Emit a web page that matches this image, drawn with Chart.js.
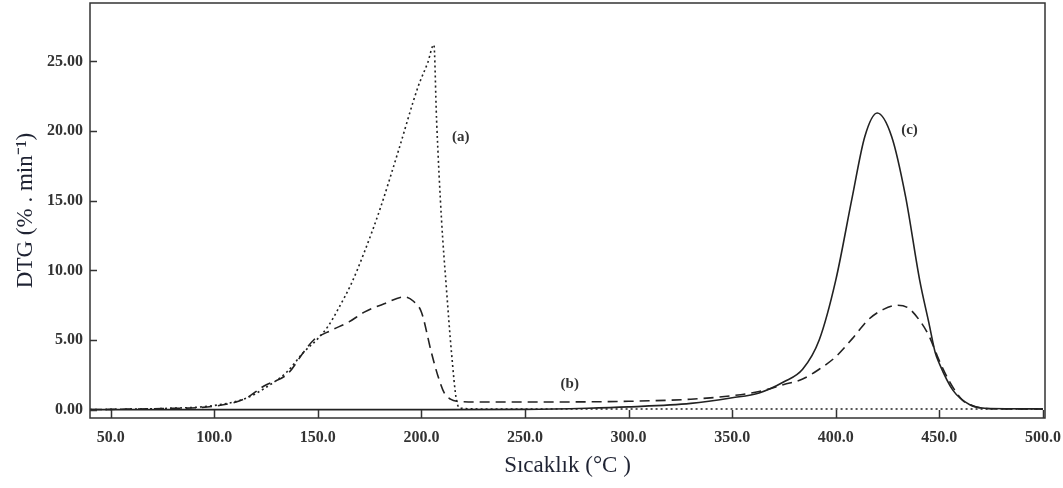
<!DOCTYPE html>
<html>
<head>
<meta charset="utf-8">
<script src="https://cdn.jsdelivr.net/npm/chart.js@4"></script>
<style>
  html, body { margin: 0; padding: 0; background: #fff; }
  #wrap { width: 1063px; height: 488px; }
</style>
</head>
<body>
<div id="wrap"><canvas id="myChart"></canvas></div>
<script>
// data
const tempA = [40, 50, 75, 100, 115, 125, 135, 143, 150, 155, 159.7, 166, 172.4, 180, 188.7, 198.4, 203, 206, 207.3, 209.7, 212, 214.5, 217, 219, 230, 300, 400, 500];
const dtgA  = [0, 0.02, 0.08, 0.3, 0.8, 1.6, 2.7, 4.1, 5.1, 6.0, 7.2, 9.0, 11.3, 14.4, 18.5, 23.2, 24.9, 26.2, 20.8, 13.6, 8.8, 4.1, 0.6, 0.1, 0.05, 0.05, 0.05, 0.05];

const tempB = [40, 50, 75, 100, 115, 124, 135.6, 143, 148, 156.5, 165, 172.4, 182, 191.8, 196, 200, 204.8, 208, 211, 214, 217, 230, 260, 300, 330, 350, 363, 375, 384, 392, 400, 408, 416, 423, 429.8, 435, 440, 445, 450, 455, 461, 465, 469, 480, 500];
const dtgB  = [0, 0.02, 0.08, 0.25, 0.8, 1.7, 2.6, 4.1, 5.0, 5.7, 6.3, 7.0, 7.6, 8.1, 7.8, 7.0, 4.1, 2.4, 1.2, 0.75, 0.6, 0.55, 0.55, 0.6, 0.75, 1.0, 1.3, 1.8, 2.2, 2.9, 3.8, 5.1, 6.5, 7.2, 7.5, 7.3, 6.5, 5.3, 3.5, 2.0, 0.7, 0.35, 0.15, 0.05, 0.05];

const tempC = [40, 100, 200, 250, 280, 300, 330, 350, 363, 375, 384, 392, 400, 408, 414, 420, 427, 433.7, 440.5, 445, 448, 450, 456.5, 464.7, 472, 500];
const dtgC  = [0, 0, 0, 0.02, 0.1, 0.2, 0.45, 0.85, 1.2, 2.0, 2.9, 5.0, 9.3, 15.3, 19.6, 21.3, 19.6, 15.3, 9.3, 6.2, 4.1, 3.3, 1.4, 0.35, 0.1, 0.05];

const xTicks = [50, 100, 150, 200, 250, 300, 350, 400, 450, 500];
const yTicks = [0, 5, 10, 15, 20, 25];

const curveNames = ['(a)', '(b)', '(c)'];
const curveLabelX = [219, 271.6, 435.6];
const curveLabelY = [19.6, 1.8, 20.1];

const toPoints = (xs, ys) => xs.map((t, i) => ({x: t, y: ys[i]}));

// frame, inward ticks, curve labels
const framePlugin = {
  id: 'frame',
  afterDatasetsDraw(chart) {
    const {ctx, chartArea: a, scales: {x, y}} = chart;
    ctx.save();
    ctx.strokeStyle = '#333';
    ctx.lineWidth = 1.5;
    ctx.strokeRect(a.left, a.top, a.right - a.left, a.bottom - a.top);
    ctx.beginPath();
    xTicks.forEach(v => {
      const px = Math.round(x.getPixelForValue(v)) + 0.5;
      ctx.moveTo(px, a.bottom);
      ctx.lineTo(px, a.bottom - 8);
    });
    yTicks.forEach(v => {
      const py = Math.round(y.getPixelForValue(v)) + 0.5;
      ctx.moveTo(a.left, py);
      ctx.lineTo(a.left + 7, py);
    });
    ctx.stroke();
    ctx.fillStyle = '#333';
    ctx.font = 'bold 15px "Liberation Serif"';
    ctx.textAlign = 'center';
    ctx.textBaseline = 'middle';
    curveNames.forEach((n, i) => {
      ctx.fillText(n, x.getPixelForValue(curveLabelX[i]), y.getPixelForValue(curveLabelY[i]));
    });
    ctx.restore();
  }
};

const lineStyle = {
  borderColor: '#222',
  borderWidth: 1.6,
  pointRadius: 0,
  fill: false,
  cubicInterpolationMode: 'monotone'
};

const config = {
  type: 'line',
  data: {
    datasets: [
      Object.assign({label: '(a)', data: toPoints(tempA, dtgA), borderDash: [2, 3]}, lineStyle),
      Object.assign({label: '(b)', data: toPoints(tempB, dtgB), borderDash: [10, 6]}, lineStyle),
      Object.assign({label: '(c)', data: toPoints(tempC, dtgC)}, lineStyle)
    ]
  },
  options: {
    responsive: true,
    maintainAspectRatio: false,
    animation: false,
    layout: { padding: { left: 0, right: 18, top: 3, bottom: 0 } },
    plugins: { legend: { display: false }, tooltip: { enabled: false } },
    scales: {
      x: {
        type: 'linear',
        min: 40,
        max: 501,
        afterBuildTicks: s => { s.ticks = xTicks.map(v => ({value: v})); },
        afterFit: s => { s.height = 70; s.paddingLeft = 0; s.paddingRight = 0; },
        grid: { display: false, drawTicks: false },
        border: { display: false },
        ticks: {
          padding: 10,
          color: '#333',
          font: { family: 'Liberation Serif', size: 16, weight: 'bold' },
          callback: v => v.toFixed(1)
        },
        title: {
          display: true,
          text: 'Sıcaklık (°C )',
          color: '#1f2333',
          font: { family: 'Liberation Serif', size: 23 },
          padding: { top: 0, bottom: 8 }
        }
      },
      y: {
        min: -0.6,
        max: 29.2,
        afterBuildTicks: s => { s.ticks = yTicks.map(v => ({value: v})); },
        afterFit: s => { s.width = 90; s.paddingTop = 0; s.paddingBottom = 0; },
        grid: { display: false, drawTicks: false },
        border: { display: false },
        ticks: {
          padding: 7,
          color: '#333',
          font: { family: 'Liberation Serif', size: 16, weight: 'bold' },
          callback: v => v.toFixed(2)
        },
        title: {
          display: true,
          text: 'DTG (% . min⁻¹)',
          color: '#1f2333',
          font: { family: 'Liberation Serif', size: 23 },
          padding: { top: 12, bottom: 0 }
        }
      }
    }
  },
  plugins: [framePlugin]
};

const myChart = new Chart(document.getElementById('myChart'), config);
</script>
</body>
</html>
